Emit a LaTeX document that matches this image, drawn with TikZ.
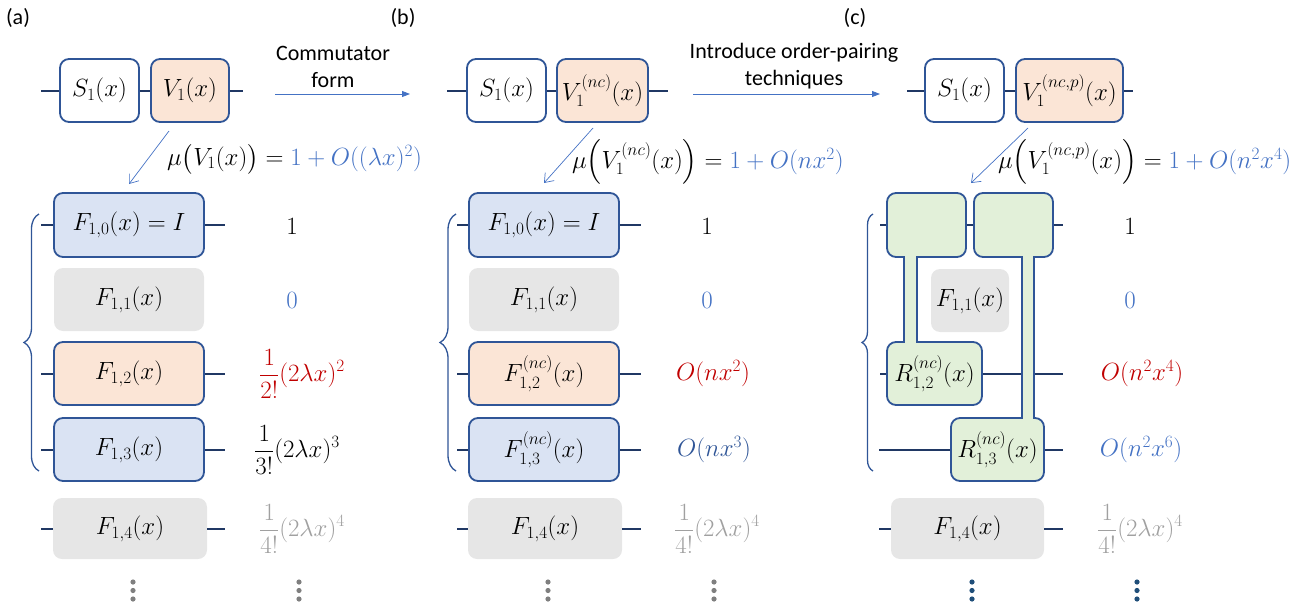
\documentclass[tikz,border=0pt]{standalone}
\usepackage{amsmath}
\usepackage{fontspec}
\setmainfont{Carlito}
\usetikzlibrary{arrows.meta,decorations.pathreplacing,calc}
\definecolor{boxline}{HTML}{2F5597}
\definecolor{wire}{HTML}{203864}
\definecolor{fblue}{HTML}{DAE3F3}
\definecolor{forange}{HTML}{FBE5D6}
\definecolor{fgray}{HTML}{E6E6E6}
\definecolor{fgreen}{HTML}{E2F0D9}
\definecolor{tblue}{HTML}{4472C4}
\definecolor{tdblue}{HTML}{2F5597}
\definecolor{tred}{HTML}{C00000}
\definecolor{tgray}{HTML}{A0A0A0}
\definecolor{dotgray}{HTML}{7F7F7F}
\definecolor{dotblue}{HTML}{1F4E79}
\begin{document}
\begin{tikzpicture}[x=1pt,y=-1pt,
  txt/.style={font=\fontsize{22}{26}\selectfont, inner sep=0pt},
  mth/.style={font=\fontsize{23}{27}\selectfont, inner sep=0pt},
  mub/.style={font=\fontsize{23.5}{26}\selectfont, inner sep=0pt, anchor=west},
  gate/.style={draw=boxline, line width=1.8pt, rounded corners=9pt, inner sep=0pt,
               font=\fontsize{23}{27}\selectfont, minimum height=63pt},
  gwhite/.style={gate, fill=white},
  gorange/.style={gate, fill=forange},
  gblue/.style={gate, fill=fblue},
  ggreen/.style={gate, fill=fgreen},
  ggray/.style={fill=fgray, rounded corners=9pt, inner sep=0pt,
                font=\fontsize{23}{27}\selectfont, minimum height=63pt},
  wireline/.style={draw=wire, line width=2pt},
  flow/.style={draw=tblue, line width=0.9pt, -{Triangle[length=8pt,width=6pt]}},
  diag/.style={draw=tblue, line width=0.7pt, -{Straight Barb[length=8pt,width=12pt]}},
  bracket/.style={draw=boxline, line width=1.3pt, decorate},
  stemline/.style={draw=boxline, line width=1.8pt},
]
\useasboundingbox (0,0) rectangle (1302,605);

% ---------- panel labels and transformation arrows ----------
\node[txt] (la) at (18,18) {(a)};
\node[txt] (lb) at (403,18) {(b)};
\node[txt] (lc) at (855,18) {(c)};

\coordinate (ab0) at (275,94);
\coordinate (ab1) at (410,94);
\draw[flow] (ab0) -- (ab1);
\node[txt] (cm1) at (333,53) {Commutator};
\node[txt] (cm2) at (333,80) {form};

\coordinate (bc0) at (693,94);
\coordinate (bc1) at (880,94);
\draw[flow] (bc0) -- (bc1);
\node[txt] (op1) at (794,53) {Introduce order-pairing};
\node[txt] (op2) at (794,80) {techniques};

% ---------- panel (a) ----------
\node[gwhite, minimum width=79pt] (S1a) at (99.5,90.5) {$S_1(x)$};
\node[gorange, minimum width=78pt] (V1a) at (190,90.5) {$V_1(x)$};
\coordinate (wa0) at (41,90.5);
\coordinate (wa1) at (243,90.5);
\draw[wireline] (wa0) -- (S1a.west);
\draw[wireline] (S1a.east) -- (V1a.west);
\draw[wireline] (V1a.east) -- (wa1);

\coordinate (da0) at (169,131);
\coordinate (da1) at (129,184);
\draw[diag] (da0) -- (da1);
\node[mub] (mua) at (167,159)
  {$\mu\bigl(V_1(x)\bigr) = {\color{tblue}1 + O((\lambda x)^2)}$};

\node[gblue, minimum width=150pt, minimum height=64pt] (F10a) at (129,225) {$F_{1,0}(x) = I$};
\node[ggray, minimum width=150pt] (F11a) at (129,299.5) {$F_{1,1}(x)$};
\node[gorange, minimum width=150pt] (F12a) at (129,373.5) {$F_{1,2}(x)$};
\node[gblue, minimum width=150pt] (F13a) at (129,449.5) {$F_{1,3}(x)$};
\node[ggray, minimum width=154pt, minimum height=61pt] (F14a) at (130,528.5) {$F_{1,4}(x)$};
\foreach \r/\y in {F10a/225, F12a/373.5, F13a/449.5, F14a/528.5}{
  \draw[wireline] (41,\y) -- (\r.west);
  \draw[wireline] (\r.east) -- (225,\y);
}
\node[mth] (va0) at (292,226) {$1$};
\node[mth, text=tblue] (va1) at (292,300) {$0$};
\node[mth, text=tred] (va2) at (302,374) {$\displaystyle\frac{1}{2!}(2\lambda x)^2$};
\node[mth] (va3) at (297,450) {$\displaystyle\frac{1}{3!}(2\lambda x)^3$};
\node[mth, text=tgray] (va4) at (302,529) {$\displaystyle\frac{1}{4!}(2\lambda x)^4$};
\draw[bracket, decoration={brace, amplitude=15pt}] (39,471) -- (39,214);
\foreach \y in {582,590.5,599}{
  \fill[dotgray] (133,\y) circle (2.6pt);
  \fill[dotgray] (299,\y) circle (2.6pt);
}

% ---------- panel (b) ----------
\node[gwhite, minimum width=79pt] (S1b) at (506.5,90.5) {$S_1(x)$};
\node[gorange, minimum width=91pt] (V1b) at (602.5,90.5) {$V_1^{(nc)}(x)$};
\coordinate (wb0) at (447,90.5);
\coordinate (wb1) at (668,90.5);
\draw[wireline] (wb0) -- (S1b.west);
\draw[wireline] (S1b.east) -- (V1b.west);
\draw[wireline] (V1b.east) -- (wb1);

\coordinate (db0) at (593,128);
\coordinate (db1) at (544,183);
\draw[diag] (db0) -- (db1);
\node[mub] (mub) at (572,162)
  {$\mu\Bigl(V_1^{(nc)}(x)\Bigr) = {\color{tblue}1 + O(nx^2)}$};

\node[gblue, minimum width=150pt, minimum height=64pt] (F10b) at (544,225) {$F_{1,0}(x) = I$};
\node[ggray, minimum width=150pt] (F11b) at (544,299.5) {$F_{1,1}(x)$};
\node[gorange, minimum width=150pt] (F12b) at (544,373.5) {$F^{(nc)}_{1,2}(x)$};
\node[gblue, minimum width=150pt] (F13b) at (544,449.5) {$F^{(nc)}_{1,3}(x)$};
\node[ggray, minimum width=154pt, minimum height=61pt] (F14b) at (545,528.5) {$F_{1,4}(x)$};
\foreach \r/\y in {F10b/225, F12b/373.5, F13b/449.5, F14b/528.5}{
  \draw[wireline] (457,\y) -- (\r.west);
  \draw[wireline] (\r.east) -- (641,\y);
}
\node[mth] (vb0) at (707,226) {$1$};
\node[mth, text=tblue] (vb1) at (707,300) {$0$};
\node[mth, text=tred] (vb2) at (713,374) {$O(nx^2)$};
\node[mth, text=tdblue] (vb3) at (714,450) {$O(nx^3)$};
\node[mth, text=tgray] (vb4) at (717,529) {$\displaystyle\frac{1}{4!}(2\lambda x)^4$};
\draw[bracket, decoration={brace, amplitude=16pt}] (456,471) -- (456,214);
\foreach \y in {582,590.5,599}{
  \fill[dotgray] (548,\y) circle (2.6pt);
  \fill[dotgray] (714,\y) circle (2.6pt);
}

% ---------- panel (c) ----------
\node[gwhite, minimum width=79pt] (S1c) at (964.5,90.5) {$S_1(x)$};
\node[gorange, minimum width=107pt] (V1c) at (1069.5,90.5) {$V_1^{(nc,p)}(x)$};
\coordinate (wc0) at (907,90.5);
\coordinate (wc1) at (1133,90.5);
\draw[wireline] (wc0) -- (S1c.west);
\draw[wireline] (S1c.east) -- (V1c.west);
\draw[wireline] (V1c.east) -- (wc1);

\coordinate (dc0) at (1028,128);
\coordinate (dc1) at (971,183);
\draw[diag] (dc0) -- (dc1);
\node[mub] (muc) at (998,162)
  {$\mu\Bigl(V_1^{(nc,p)}(x)\Bigr) = {\color{tblue}1 + O(n^2x^4)}$};

% paired gates: two top blocks joined to the lower blocks by stems
\node[ggreen, minimum width=79pt, minimum height=64pt] (T1) at (926.5,225) {};
\node[ggreen, minimum width=79pt, minimum height=64pt] (T2) at (1013.5,225) {};
\node[ggray, minimum width=78pt] (F11c) at (970,300.5) {$F_{1,1}(x)$};
\node[ggreen, minimum width=95pt] (R12) at (934.5,373.5) {$R^{(nc)}_{1,2}(x)$};
\node[ggreen, minimum width=93pt] (R13) at (997.5,449.5) {$R^{(nc)}_{1,3}(x)$};
\node[ggray, minimum width=153pt, minimum height=61pt] (F14c) at (967.5,528.5) {$F_{1,4}(x)$};

\draw[wireline] (880,225) -- (T1.west);
\draw[wireline] (T1.east) -- (T2.west);
\draw[wireline] (T2.east) -- (1063,225);
\draw[wireline] (880,373.5) -- (R12.west);
\draw[wireline] (R12.east) -- (1063,373.5);
\draw[wireline] (879,449.5) -- (R13.west);
\draw[wireline] (R13.east) -- (1063,449.5);
\draw[wireline] (879,528.5) -- (F14c.west);
\draw[wireline] (F14c.east) -- (1063,528.5);

% stems joining the paired blocks
\fill[fgreen] (904.9,255) rectangle (916.1,344);
\draw[stemline] ($(T1.south)+(-22.5,0)$) -- ($(R12.north)+(-30.5,0)$);
\draw[stemline] ($(T1.south)+(-9.5,0)$) -- ($(R12.north)+(-17.5,0)$);
\fill[fgreen] (1022.9,255) rectangle (1033.1,420);
\draw[stemline] ($(T2.south)+(8.5,0)$) -- ($(R13.north)+(24.5,0)$);
\draw[stemline] ($(T2.south)+(20.5,0)$) -- ($(R13.north)+(36.5,0)$);

\node[mth] (vc0) at (1130,226) {$1$};
\node[mth, text=tblue] (vc1) at (1130,300) {$0$};
\node[mth, text=tred] (vc2) at (1142,374) {$O(n^2x^4)$};
\node[mth, text=tblue] (vc3) at (1141,450) {$O(n^2x^6)$};
\node[mth, text=tgray] (vc4) at (1140,529) {$\displaystyle\frac{1}{4!}(2\lambda x)^4$};
\draw[bracket, decoration={brace, amplitude=11pt}] (873,471) -- (873,214);
\foreach \y in {582,590.5,599}{
  \fill[dotblue] (972,\y) circle (2.6pt);
  \fill[dotblue] (1137,\y) circle (2.6pt);
}
\end{tikzpicture}
\end{document}
